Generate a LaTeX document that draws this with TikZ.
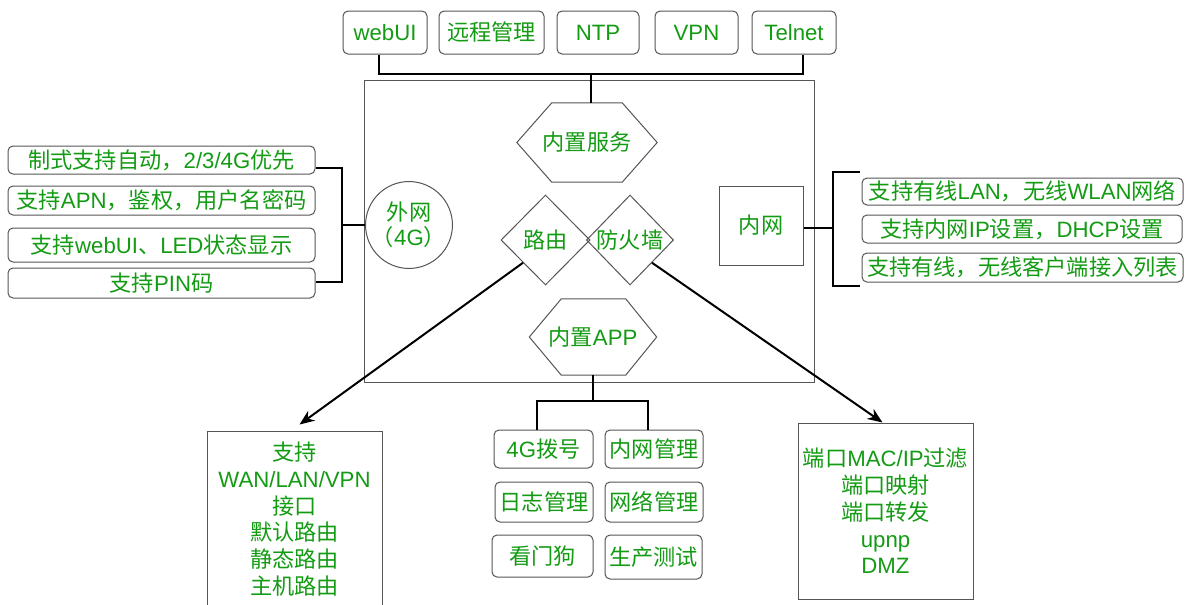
\documentclass[tikz,border=0pt]{standalone}
\usepackage{fontspec}
\setmainfont{Liberation Sans}
\newfontfamily\cjk{Noto Sans CJK SC}
\usetikzlibrary{shapes.geometric,arrows.meta,calc}
\definecolor{txtgreen}{RGB}{20,155,20}
\definecolor{edgegray}{RGB}{85,85,85}
\newcommand\zh[1]{{\cjk #1}}
\begin{document}
\begin{tikzpicture}[x=1pt,y=-1pt,
  every node/.style={font=\fontsize{22.2}{26.8}\selectfont, text=txtgreen, inner sep=0pt, align=center},
  rbox/.style={draw=edgegray, line width=1pt, rounded corners=5pt},
  sbox/.style={draw=edgegray, line width=1pt},
  conn/.style={draw=black, line width=2pt},
  arr/.style={conn, -{Stealth[length=15pt,width=12pt]}},
  hexline/.style={draw=edgegray, line width=1pt},
 ]
\fill[white] (0,0) rectangle (1202,605);
\useasboundingbox (0,0) rectangle (1202,605);

% main container
\node[sbox, minimum width=450pt, minimum height=302pt] (main) at (589,231) {};

% top service boxes
\node[rbox, minimum width=84pt, minimum height=43pt] (webui) at (385,32.5) {webUI};
\node[rbox, minimum width=105pt, minimum height=43pt] (remote) at (491.5,32.5) {\zh{远程管理}};
\node[rbox, minimum width=82pt, minimum height=43pt] (ntp) at (598,32.5) {NTP};
\node[rbox, minimum width=83pt, minimum height=43pt] (vpn) at (696.5,32.5) {VPN};
\node[rbox, minimum width=84pt, minimum height=43pt] (telnet) at (794,32.5) {Telnet};

% hexagon: built-in services
\node[minimum width=140pt, minimum height=79pt] (svc) at (587,142.5) {\zh{内置服务}};
\draw[hexline] (svc.west) -- ([xshift=35pt]svc.north west) -- ([xshift=-35pt]svc.north east)
  -- (svc.east) -- ([xshift=-35pt]svc.south east) -- ([xshift=35pt]svc.south west) -- cycle;

% diamonds
\node[diamond, draw=edgegray, line width=1pt, minimum width=89pt, minimum height=90pt] (route) at (545.5,240) {\zh{路由}};
\node[diamond, draw=edgegray, line width=1pt, minimum width=86pt, minimum height=90pt] (fw) at (630,240) {\zh{防火墙}};

% hexagon: built-in APP
\node[minimum width=127pt, minimum height=76pt] (app) at (593,337) {\zh{内置}APP};
\draw[hexline] (app.west) -- ([xshift=32pt]app.north west) -- ([xshift=-31pt]app.north east)
  -- (app.east) -- ([xshift=-31pt]app.south east) -- ([xshift=32pt]app.south west) -- cycle;

% LAN box
\node[sbox, minimum width=84pt, minimum height=79pt] (lan) at (761,225.5) {\zh{内网}};

% WAN circle
\node[circle, draw=edgegray, line width=1pt, minimum size=74pt] (wanc) at (409,225) {\zh{外网}\\[-2pt]\zh{（}4G\zh{）}};

% left feature boxes
\node[rbox, minimum width=307pt, minimum height=28pt] (b1) at (161.5,160) {\zh{制式支持自动，}2/3/4G\zh{优先}};
\node[rbox, minimum width=307pt, minimum height=29pt] (b2) at (161.5,200.5) {\zh{支持}APN\zh{，鉴权，用户名密码}};
\node[rbox, minimum width=307pt, minimum height=34pt] (b3) at (161.5,245) {\zh{支持}webUI\zh{、}LED\zh{状态显示}};
\node[rbox, minimum width=307pt, minimum height=30pt] (b4) at (161.5,283) {\zh{支持}PIN\zh{码}};

% right feature boxes
\node[rbox, minimum width=321pt, minimum height=27pt] (r1) at (1022.5,191.5) {\zh{支持有线}LAN\zh{，无线}WLAN\zh{网络}};
\node[rbox, minimum width=320pt, minimum height=28pt] (r2) at (1022,229) {\zh{支持内网}IP\zh{设置，}DHCP\zh{设置}};
\node[rbox, minimum width=321pt, minimum height=29pt] (r3) at (1022.5,267.5) {\zh{支持有线，无线客户端接入列表}};

% bottom boxes
\node[sbox, minimum width=175pt, minimum height=176pt] (wan) at (294.5,519) {\zh{支持}\\WAN/LAN/VPN\\\zh{接口}\\\zh{默认路由}\\\zh{静态路由}\\\zh{主机路由}};
\node[sbox, minimum width=175pt, minimum height=176pt] (nat) at (885.5,511) {\zh{端口}MAC/IP\zh{过滤}\\\zh{端口映射}\\\zh{端口转发}\\upnp\\DMZ};

% APP boxes
\node[rbox, minimum width=99pt, minimum height=38pt] (dial) at (543.5,449) {4G\zh{拨号}};
\node[rbox, minimum width=98pt, minimum height=38pt] (lanm) at (654,449) {\zh{内网管理}};
\node[rbox, minimum width=98pt, minimum height=40pt] (logm) at (544,502) {\zh{日志管理}};
\node[rbox, minimum width=98pt, minimum height=40pt] (netm) at (654,502) {\zh{网络管理}};
\node[rbox, minimum width=101pt, minimum height=42pt] (wdog) at (542.5,556) {\zh{看门狗}};
\node[rbox, minimum width=97pt, minimum height=44pt] (prod) at (653.5,557) {\zh{生产测试}};

% top bus
\coordinate (tb) at (591,74);
\draw[conn] ([xshift=-6pt]webui.south) |- (tb);
\draw[conn] ([xshift=9pt]telnet.south) |- (tb);
\draw[conn] (tb) -- (tb |- svc.north);

% left bracket
\coordinate (lb) at (342,225);
\draw[conn] ([yshift=-8pt]b1.east) -| (lb);
\draw[conn] ([yshift=1pt]b4.east) -| (lb);
\draw[conn] (lb) -- (wanc.west);

% right bracket
\coordinate (rb) at (833,228);
\draw[conn] (lan.east |- rb) -- (rb);
\draw[conn] ([xshift=-2pt,yshift=6pt]r1.north west) -| (rb);
\draw[conn] ([xshift=-2pt,yshift=-3pt]r3.south west) -| (rb);

% APP bus
\coordinate (ab) at (593,401);
\draw[conn] (app.south) -- (ab);
\draw[conn] ([xshift=-6.5pt]dial.north) |- (ab);
\draw[conn] ([xshift=-6pt]lanm.north) |- (ab);

% arrows
\draw[arr] (route.south west) -- ([xshift=5pt,yshift=6pt]wan.north);
\draw[arr] (fw.south east) -- ([xshift=-3pt]nat.north);
\end{tikzpicture}
\end{document}
